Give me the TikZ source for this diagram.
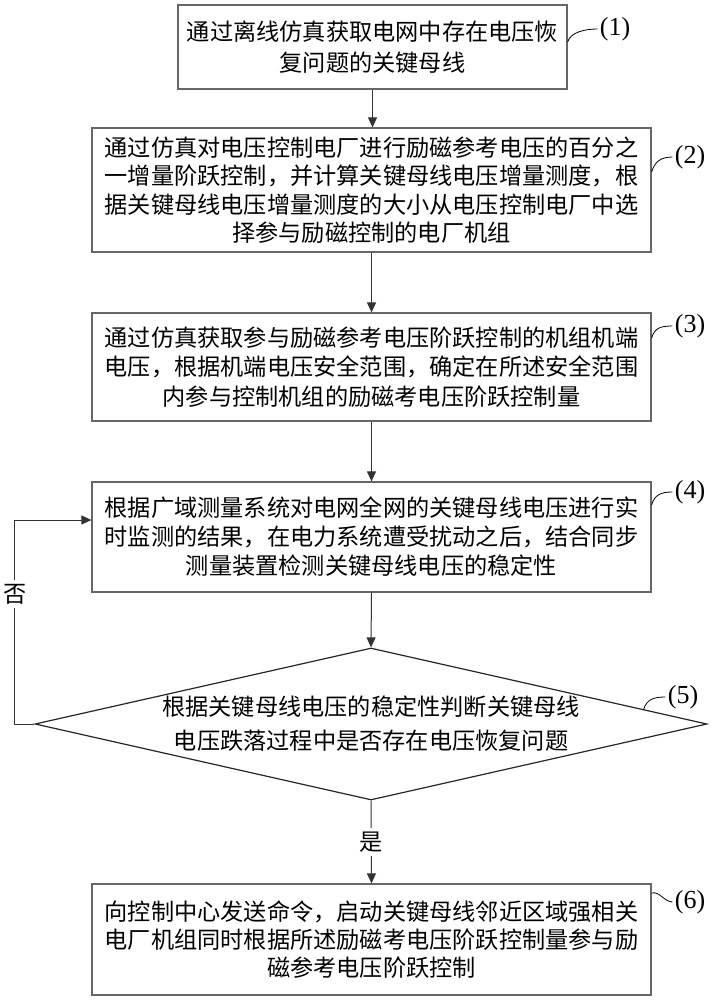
\documentclass[tikz,border=0pt]{standalone}
\usepackage{fontspec}
\setmainfont{Liberation Serif}
\newfontfamily\cjk{Noto Sans CJK SC}
\usetikzlibrary{shapes.geometric,calc,arrows.meta}

\begin{document}
\begin{tikzpicture}[>={Triangle[length=5pt,width=4.5pt]},x=0.5pt,y=-0.5pt,
	box/.style={draw=black!60,line width=0.6pt,minimum width=279.5pt,inner sep=0pt,align=center,font=\cjk\fontsize{11.6}{14.5}\selectfont},
	txt/.style={inner sep=0pt,font=\cjk\fontsize{11.6}{17}\selectfont},
	decision/.style={diamond,draw=black!85,line width=0.6pt,minimum width=336pt,minimum height=76pt,inner sep=0pt},
	tag/.style={inner sep=1pt,font=\fontsize{13}{15}\selectfont},
	line/.style={draw=black!80,line width=0.5pt}]

\useasboundingbox (0,0) rectangle (712,1000);

% steps
\node[box,minimum width=194.5pt,minimum height=42pt,font=\cjk\fontsize{11.6}{15.5}\selectfont] (b1) at (372.5,47)
	{通过离线仿真获取电网中存在电压恢\\复问题的关键母线};
\node[box,minimum height=62pt,font=\cjk\fontsize{11.6}{14.2}\selectfont] (b2) at (371.5,190)
	{通过仿真对电压控制电厂进行励磁参考电压的百分之\\一增量阶跃控制，并计算关键母线电压增量测度，根\\据关键母线电压增量测度的大小从电压控制电厂中选\\择参与励磁控制的电厂机组};
\node[box,minimum height=54pt,font=\cjk\fontsize{11.6}{14.75}\selectfont] (b3) at (371.5,367)
	{通过仿真获取参与励磁参考电压阶跃控制的机组机端\\电压，根据机端电压安全范围，确定在所述安全范围\\内参与控制机组的励磁考电压阶跃控制量};
\node[box,minimum height=55pt] (b4) at (371.5,537)
	{根据广域测量系统对电网全网的关键母线电压进行实\\时监测的结果，在电力系统遭受扰动之后，结合同步\\测量装置检测关键母线电压的稳定性};
\node[decision] (d5) at (371,724) {};
\node[txt,align=center] (t5) at (d5) {根据关键母线电压的稳定性判断关键母线\\电压跌落过程中是否存在电压恢复问题};
\node[box,minimum height=55.5pt,font=\cjk\fontsize{11.6}{13.9}\selectfont] (b6) at (371.5,939.5)
	{向控制中心发送命令，启动关键母线邻近区域强相关\\电厂机组同时根据所述励磁考电压阶跃控制量参与励\\磁参考电压阶跃控制};

% arrows
\draw[line,->] (b1.south) -- (b1.south |- b2.north);
\draw[line,->] (b2.south) -- (b3.north);
\draw[line,->] (b3.south) -- (b4.north);
\draw[line,->] (b4.south) -- (d5.north);
\draw[line,->] (d5.south) -- node[txt,fill=white,inner sep=2pt] (yes) {是} (b6.north);
\draw[line,->] (d5.west) -- ++(-20,0) |- ([yshift=8.5pt]b4.west);
\node[txt,fill=white,inner sep=2pt] (no) at (15,594) {否};

% step numbers
\node[tag] (l1) at (615,29) {(1)};
\node[tag] (l2) at (690,157) {(2)};
\node[tag] (l3) at (690,326) {(3)};
\node[tag] (l4) at (690,492) {(4)};
\node[tag] (l5) at (683,697) {(5)};
\node[tag] (l6) at (690,902) {(6)};

\draw ([yshift=2.5pt]b1.east) .. controls +(3,-10) and +(-12,0) .. (l1.west);
\draw ([yshift=9pt]b2.east) .. controls +(3,-10) and +(-12,0) .. (l2.west);
\draw ([yshift=14.5pt]b3.east) .. controls +(3,-10) and +(-12,0) .. (l3.west);
\draw ([yshift=16pt]b4.east) .. controls +(3,-10) and +(-12,0) .. (l4.west);
\draw ($(d5.north)!0.81!(d5.east)$) .. controls +(3,-10) and +(-12,0) .. (l5.west);
\draw ([yshift=23.25pt]b6.east) .. controls +(8,-2) and +(-8,0) .. (l6.west);
\end{tikzpicture}
\end{document}
